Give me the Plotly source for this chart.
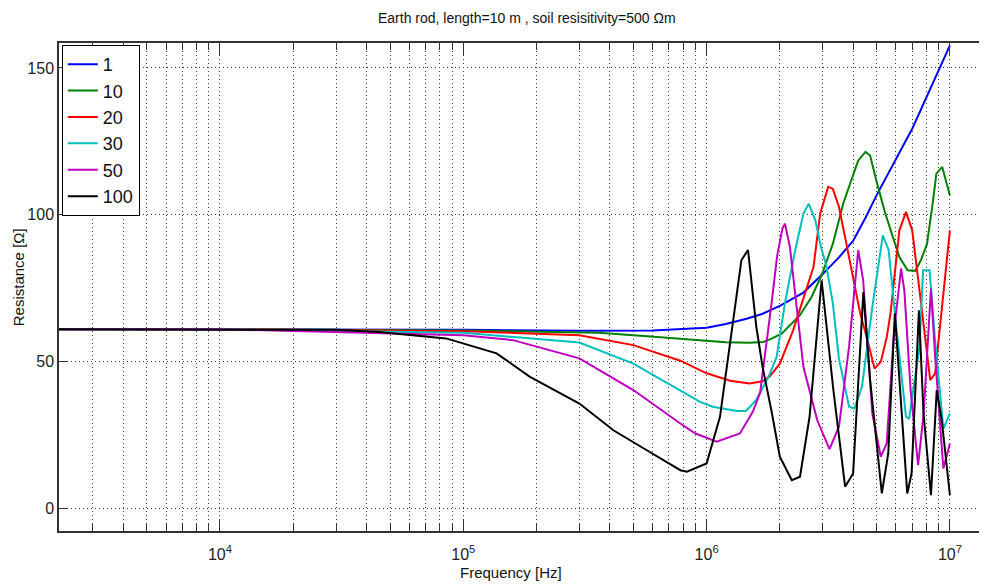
import plotly.graph_objects as go

# ---- data (frequency in Hz, resistance in ohm) ----
freq_1 = [2.18e3, 1e4, 1e5, 3e5, 6e5, 1e6, 1.2e6, 1.46e6, 1.7e6, 2e6, 2.5e6, 3e6, 3.5e6, 4e6, 4.5e6, 5e6, 6e6, 7e6, 8e6, 9e6, 1e7]
res_1 = [61.0, 61.0, 60.8, 60.5, 60.6, 61.5, 62.8, 64.6, 66.3, 69.0, 73.5, 79.8, 85.5, 91.1, 99.0, 106.7, 119.1, 129.3, 139.9, 149.5, 157.7]

freq_10 = [2.18e3, 1e4, 1e5, 3.6e5, 5.7e5, 7.8e5, 1.06e6, 1.2e6, 1.5e6, 1.71e6, 1.85e6, 2.04e6, 2.42e6, 2.7e6, 2.97e6, 3.3e6, 3.65e6, 4e6, 4.2e6, 4.5e6, 4.7e6, 5e6, 5.4e6, 5.83e6, 6.2e6, 6.7e6, 7.2e6, 7.6e6, 8.05e6, 8.5e6, 8.8e6, 9.3e6, 1e7]
res_10 = [61.0, 61.0, 60.6, 59.8, 58.6, 57.8, 57.0, 56.6, 56.4, 56.7, 57.8, 59.6, 65.8, 72.0, 79.4, 90.0, 104.0, 113.0, 118.5, 121.4, 120.2, 111.2, 101.0, 92.4, 85.6, 81.1, 80.9, 84.5, 90.0, 104.0, 114.0, 116.3, 106.6]

freq_20 = [2.18e3, 1e4, 1e5, 3e5, 5e5, 7.8e5, 1e6, 1.25e6, 1.5e6, 1.7e6, 1.82e6, 2e6, 2.27e6, 2.5e6, 2.75e6, 2.93e6, 3.16e6, 3.3e6, 3.5e6, 3.73e6, 4e6, 4.28e6, 4.55e6, 4.9e6, 5.2e6, 5.5e6, 5.7e6, 6.2e6, 6.6e6, 7e6, 7.5e6, 8e6, 8.3e6, 8.7e6, 9.2e6, 1e7]
res_20 = [61.0, 61.0, 60.3, 59.0, 55.6, 50.3, 46.0, 43.5, 42.5, 43.3, 45.0, 49.3, 60.7, 71.6, 82.2, 100.4, 109.5, 108.9, 102.7, 91.3, 78.8, 66.4, 58.4, 47.6, 49.9, 58.3, 66.4, 94.7, 101.0, 94.7, 74.3, 55.0, 43.7, 46.0, 66.4, 94.7]

freq_30 = [2.18e3, 1e4, 1e5, 3e5, 5e5, 7.8e5, 9.4e5, 1.06e6, 1.33e6, 1.45e6, 1.6e6, 1.8e6, 1.94e6, 2.1e6, 2.3e6, 2.5e6, 2.63e6, 2.8e6, 2.95e6, 3.1e6, 3.3e6, 3.5e6, 3.85e6, 4.05e6, 4.35e6, 4.8e6, 5.3e6, 5.6e6, 6e6, 6.6e6, 6.8e6, 7.5e6, 7.76e6, 8.25e6, 8.69e6, 9.4e6, 1e7]
res_30 = [61.0, 61.0, 59.8, 56.5, 49.3, 40.3, 36.3, 34.6, 33.2, 33.2, 36.9, 45.0, 51.6, 70.0, 87.0, 100.4, 103.8, 98.1, 89.0, 83.0, 70.0, 51.0, 34.6, 34.0, 41.4, 68.6, 93.0, 88.0, 63.0, 31.2, 30.6, 55.0, 81.1, 81.1, 57.3, 27.2, 32.3]

freq_50 = [2.18e3, 1e4, 1e5, 1.6e5, 3e5, 5e5, 7.8e5, 9e5, 1.1e6, 1.37e6, 1.55e6, 1.66e6, 1.85e6, 1.95e6, 2.05e6, 2.1e6, 2.2e6, 2.5e6, 2.85e6, 3.2e6, 3.5e6, 3.85e6, 4.2e6, 4.4e6, 4.8e6, 5.2e6, 5.5e6, 5.9e6, 6.3e6, 6.5e6, 6.9e6, 7.4e6, 7.8e6, 8.36e6, 8.68e6, 9.4e6, 1e7]
res_50 = [61.0, 61.0, 59.0, 57.3, 51.1, 40.3, 28.9, 25.5, 22.7, 25.5, 33.0, 39.5, 70.0, 86.0, 95.3, 97.0, 89.0, 48.2, 30.0, 20.2, 27.8, 55.0, 88.0, 77.7, 32.3, 17.6, 22.1, 60.7, 81.7, 74.0, 40.0, 14.7, 32.3, 74.9, 52.8, 13.6, 22.1]

freq_100 = [2.18e3, 1e4, 3e4, 4.5e4, 8.5e4, 1.37e5, 1.88e5, 3e5, 4.14e5, 5.68e5, 7.8e5, 8.3e5, 1e6, 1.135e6, 1.29e6, 1.39e6, 1.48e6, 1.6e6, 1.7e6, 1.85e6, 2e6, 2.24e6, 2.42e6, 2.65e6, 2.97e6, 3.32e6, 3.71e6, 4e6, 4.41e6, 4.7e6, 5.25e6, 5.58e6, 5.94e6, 6.22e6, 6.68e6, 6.96e6, 7.46e6, 7.79e6, 8.36e6, 8.83e6, 9.26e6, 1e7]
res_100 = [61.0, 61.0, 60.8, 60.1, 57.9, 52.8, 44.8, 35.7, 26.6, 19.8, 13.0, 12.5, 15.3, 31.2, 65.2, 84.5, 88.0, 62.0, 48.0, 33.0, 17.6, 9.6, 10.8, 31.2, 77.7, 40.3, 7.4, 11.9, 73.7, 43.7, 5.1, 18.7, 66.4, 43.7, 5.1, 11.9, 67.5, 32.3, 4.5, 40.3, 30.0, 4.5]

series_names = ["1", "10", "20", "30", "50", "100"]
series_colors = ["#0000FF", "#008000", "#FF0000", "#00BFBF", "#BF00BF", "#000000"]
series_freq = [freq_1, freq_10, freq_20, freq_30, freq_50, freq_100]
series_res = [res_1, res_10, res_20, res_30, res_50, res_100]

major_ticks = [1e4, 1e5, 1e6, 1e7]
major_labels = ["10<sup>4</sup>", "10<sup>5</sup>", "10<sup>6</sup>", "10<sup>7</sup>"]
minor_ticks = [m * 10 ** e for e in range(3, 7) for m in range(2, 10) if m * 10 ** e > 2.2e3]
y_ticks = [0, 50, 100, 150]

FONT = "Liberation Sans, Arial, sans-serif"
GRID = "#3a3a3a"
AX = "#333333"

fig = go.Figure()
for name, col, f, r in zip(series_names, series_colors, series_freq, series_res):
    fig.add_trace(go.Scatter(x=f, y=r, mode="lines", name=name, legendgroup=name,
                             line=dict(color=col, width=2)))

fig.update_xaxes(
    type="log", range=[3.3383, 7.1525], automargin=False,
    tickvals=major_ticks, ticktext=major_labels,
    ticks="inside", ticklen=12, tickcolor=AX, tickwidth=1,
    showline=True, linecolor=AX, linewidth=1.5, mirror="ticks",
    showgrid=True, gridcolor=GRID, gridwidth=1, griddash="1px,3px",
    minor=dict(tickvals=minor_ticks, ticks="inside", ticklen=7, tickcolor=AX,
               showgrid=True, gridcolor=GRID, gridwidth=1, griddash="1px,3px"),
    zeroline=False, ticklabelstandoff=8,
    tickfont=dict(family=FONT, size=16, color="#222"),
)
fig.update_yaxes(
    range=[-7.7, 158.5], tickvals=y_ticks, automargin=False,
    ticks="inside", ticklen=9, tickcolor=AX,
    showline=True, linecolor=AX, linewidth=1.5,
    showgrid=True, gridcolor=GRID, gridwidth=1, griddash="1px,3px",
    zeroline=False,
    tickfont=dict(family=FONT, size=16, color="#222"),
)

# page body has an 8px margin, so the figure is 8px smaller and margins shifted
fig.update_layout(
    width=979, height=579, autosize=False,
    margin=dict(l=51, r=0, t=35, b=56, autoexpand=False),
    plot_bgcolor="white", paper_bgcolor="white",
    showlegend=True,
    legend=dict(x=0.003, y=0.996, xanchor="left", yanchor="top",
                bgcolor="white", bordercolor="black", borderwidth=1,
                font=dict(family=FONT, size=18, color="#111"),
                tracegroupgap=0, traceorder="normal"),
    annotations=[
        dict(text="Earth rod, length=10 m , soil resisitivity=500 \u03a9m",
             x=0.504, y=1 + 25 / 488, xref="paper", yref="paper",
             xanchor="center", yanchor="middle", showarrow=False,
             font=dict(family=FONT, size=14, color="#111")),
        dict(text="Frequency [Hz]", x=0.487, y=-41 / 488, xref="paper", yref="paper",
             xanchor="center", yanchor="middle", showarrow=False,
             font=dict(family=FONT, size=15, color="#111")),
        dict(text="Resistance [\u03a9]", x=-41 / 928, y=0.52, xref="paper", yref="paper",
             xanchor="center", yanchor="middle", showarrow=False, textangle=-90,
             font=dict(family=FONT, size=15, color="#111")),
    ],
)

fig.write_html("out.html")
